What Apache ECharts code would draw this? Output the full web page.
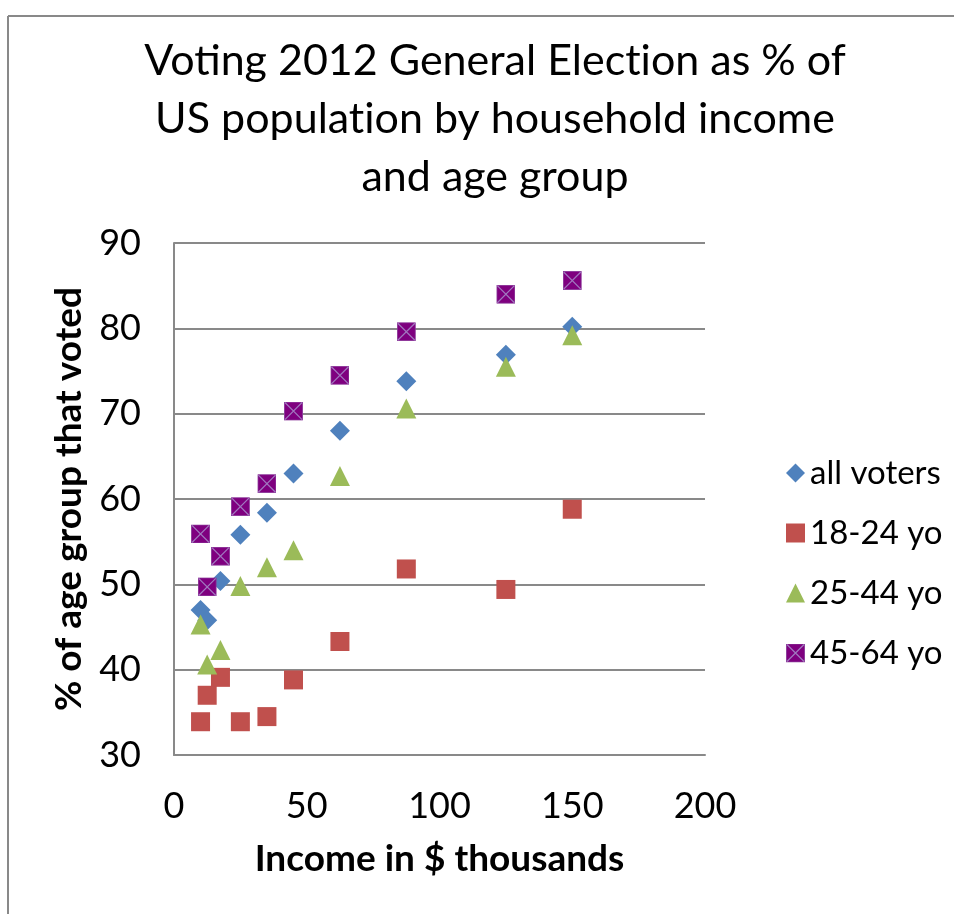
<!DOCTYPE html>
<html>
<head>
<meta charset="utf-8">
<script src="https://cdn.jsdelivr.net/npm/echarts@6/dist/echarts.min.js"></script>
<style>
html,body{margin:0;padding:0;background:#fff;}
#chart{width:961px;height:914px;}
</style>
</head>
<body>
<div id="chart"></div>
<script>
// Data
const incomeX   = [10, 12.5, 17.5, 25, 35, 45, 62.5, 87.5, 125, 150];
const allVoters = [47.0, 45.8, 50.4, 55.8, 58.4, 63.0, 68.0, 73.8, 76.9, 80.2];
const age18_24  = [33.9, 37.0, 39.1, 33.9, 34.5, 38.8, 43.3, 51.8, 49.4, 58.8];
const age25_44  = [45.3, 40.6, 42.3, 49.8, 52.0, 54.0, 62.7, 70.6, 75.5, 79.2];
const age45_64  = [55.9, 49.7, 53.3, 59.1, 61.8, 70.3, 74.5, 79.6, 84.0, 85.6];
const seriesNames = ['all voters', '18-24 yo', '25-44 yo', '45-64 yo'];
const xTicks = [0, 50, 100, 150, 200];
const yTicks = [30, 40, 50, 60, 70, 80, 90];

const FONT = 'Lato';
const ZWNJ = '\u200C'; // prevents the "ti" ligature of Lato
function pairs(ys){ return incomeX.map((x,i)=>[x, ys[i]]); }

const xSquareSvg = "<svg xmlns='http://www.w3.org/2000/svg' width='40' height='40' viewBox='0 0 40 40'>" +
  "<rect x='1' y='1' width='38' height='38' fill='#7F007F' stroke='#8B3B9B' stroke-width='2'/>" +
  "<path d='M2,2L38,38M38,2L2,38' stroke='#A077BF' stroke-width='2.6'/></svg>";
const xSquareSymbol = 'image://data:image/svg+xml;charset=utf-8,' + encodeURIComponent(xSquareSvg);

const chart = echarts.init(document.getElementById('chart'), null, {renderer:'canvas'});
chart.setOption({
  backgroundColor: '#fff',
  animation: false,
  title: {
    text: 'Voting 2012 General Elect' + ZWNJ + 'ion as % of\nUS populat' + ZWNJ + 'ion by household income\nand age group',
    left: 490, top: 27, textAlign: 'center',
    textStyle: { fontFamily: FONT, fontSize: 43, fontWeight: 'normal', color: '#000', lineHeight: 58 }
  },
  graphic: [
    { type: 'line', shape: { x1: 8, y1: 16, x2: 954, y2: 16 }, style: { stroke: '#898989', lineWidth: 2 } },
    { type: 'line', shape: { x1: 8, y1: 16, x2: 8, y2: 914 }, style: { stroke: '#898989', lineWidth: 2 } }
  ],
  legend: {
    orient: 'vertical', left: 781, top: 449,
    itemWidth: 19, itemHeight: 19, itemGap: 22,
    textStyle: { fontFamily: FONT, fontSize: 33, color: '#000', lineHeight: 38 },
    data: seriesNames
  },
  grid: { left: 174, top: 243, width: 531, height: 512, containLabel: false },
  xAxis: {
    type: 'value', min: xTicks[0], max: xTicks[xTicks.length-1], interval: 50,
    name: 'Income in $ thousands', nameLocation: 'middle', nameGap: 86,
    nameTextStyle: { fontFamily: FONT, fontSize: 37, fontWeight: 'bold', color: '#000' },
    axisLine: { show: true, lineStyle: { color: '#898989', width: 2 } },
    axisTick: { show: false },
    splitLine: { show: false },
    axisLabel: { fontFamily: FONT, fontSize: 36, color: '#000', margin: 33 }
  },
  yAxis: {
    type: 'value', min: yTicks[0], max: yTicks[yTicks.length-1], interval: 10,
    name: '% of age group that voted', nameLocation: 'middle', nameGap: 86, nameRotate: 90,
    nameTextStyle: { fontFamily: FONT, fontSize: 37, fontWeight: 'bold', color: '#000' },
    axisLine: { show: true, lineStyle: { color: '#898989', width: 2 } },
    axisTick: { show: false },
    splitLine: { show: true, lineStyle: { color: '#898989', width: 2 } },
    axisLabel: { fontFamily: FONT, fontSize: 36, color: '#000', margin: 33 }
  },
  series: [
    { name: seriesNames[0], type: 'scatter', symbol: 'diamond', symbolSize: 20,
      itemStyle: { color: '#4F81BD', opacity: 1 }, data: pairs(allVoters) },
    { name: seriesNames[1], type: 'scatter', symbol: 'rect', symbolSize: 19,
      itemStyle: { color: '#C0504D', opacity: 1 }, data: pairs(age18_24) },
    { name: seriesNames[2], type: 'scatter', symbol: 'triangle', symbolSize: 20,
      itemStyle: { color: '#9BBB59', opacity: 1 }, data: pairs(age25_44) },
    { name: seriesNames[3], type: 'scatter', symbol: xSquareSymbol, symbolSize: 19,
      itemStyle: { color: '#7F007F', opacity: 1 }, data: pairs(age45_64) }
  ]
});
</script>
</body>
</html>
